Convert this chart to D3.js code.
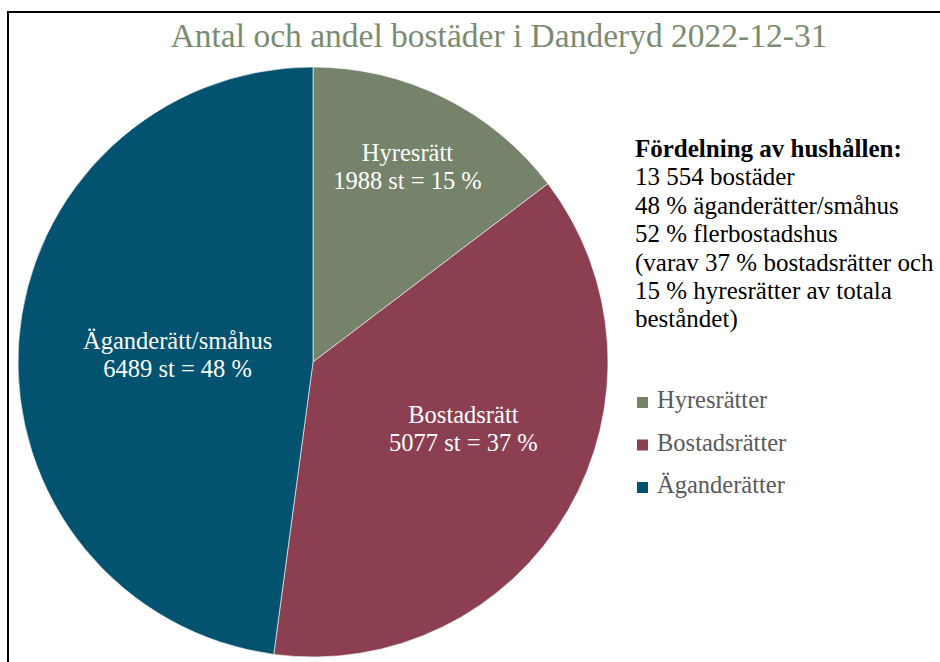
<!DOCTYPE html>
<html>
<head>
<meta charset="utf-8">
<script src="https://cdn.jsdelivr.net/npm/d3@7"></script>
<style>
  body { margin: 0; background: #fff; }
  text { font-family: "Liberation Serif", "Times New Roman", serif; }
</style>
</head>
<body>
<svg id="pie-chart" width="940" height="662"></svg>
<script>
// data
var categories = ["Hyresrätt", "Bostadsrätt", "Äganderätt/småhus"];
var counts = [1988, 5077, 6489];
var shares = [15, 37, 48];
var legendNames = ["Hyresrätter", "Bostadsrätter", "Äganderätter"];
var colors = ["#74836a", "#8b3f51", "#03526f"];
var title = "Antal och andel bostäder i Danderyd 2022-12-31";
var infoTitle = "Fördelning av hushållen:";
var infoLines = ["13 554 bostäder", "48 % äganderätter/småhus", "52 % flerbostadshus",
                 "(varav 37 % bostadsrätter och", "15 % hyresrätter av totala", "beståndet)"];

var svg = d3.select("#pie-chart"),
    width = +svg.attr("width"),
    height = +svg.attr("height"),
    radius = 295,
    cx = 313, cy = 362;

// frame
svg.append("rect")
    .attr("x", 8).attr("y", 12)
    .attr("width", width).attr("height", height)
    .attr("fill", "none")
    .attr("stroke", "#000")
    .attr("stroke-width", 2);

svg.append("text")
    .attr("x", 499).attr("y", 47)
    .attr("text-anchor", "middle")
    .attr("font-size", 33.5)
    .attr("fill", "#7b8b6f")
    .text(title);

var data = categories.map(function(c, i) { return {name: c, value: counts[i], share: shares[i], color: colors[i]}; });

var pie = d3.pie().sort(null).value(function(d) { return d.value; });
var arc = d3.arc().innerRadius(0).outerRadius(radius);

var g = svg.append("g").attr("transform", "translate(" + cx + "," + cy + ")");

g.selectAll("path")
  .data(pie(data))
  .enter().append("path")
    .attr("d", arc)
    .attr("fill", function(d) { return d.data.color; })
    .attr("stroke", "#fff")
    .attr("stroke-width", 0.6);

// label distance from centre (fraction of radius) + vertical nudge, excel "best fit"-ish
var labelR = [0.72, 0.59, 0.46];
var labelDy = [-6, -22, 1];

var label = g.selectAll(".lbl")
  .data(pie(data))
  .enter().append("text")
    .attr("class", "lbl")
    .attr("text-anchor", "middle")
    .attr("font-size", 24.5)
    .attr("fill", "#fff")
    .attr("transform", function(d, i) {
      var r = labelR[i] * radius;
      var c = d3.arc().innerRadius(r).outerRadius(r).centroid(d);
      return "translate(" + c[0] + "," + (c[1] + labelDy[i]) + ")";
    });

label.append("tspan").attr("x", 0).attr("y", -5).text(function(d) { return d.data.name; });
label.append("tspan").attr("x", 0).attr("y", 23)
    .text(function(d) { return d.data.value + " st = " + d.data.share + " %"; });

// info text
var info = svg.append("g").attr("transform", "translate(635,157)");
info.append("text")
    .attr("font-size", 25)
    .attr("font-weight", "bold")
    .attr("fill", "#000")
    .text(infoTitle);
info.selectAll(".line")
  .data(infoLines)
  .enter().append("text")
    .attr("class", "line")
    .attr("y", function(d, i) { return (i + 1) * 28.4; })
    .attr("font-size", 25)
    .attr("fill", "#000")
    .text(function(d) { return d; });

// legend
var legend = svg.append("g").attr("transform", "translate(637,408)")
  .selectAll("g")
  .data(legendNames)
  .enter().append("g")
    .attr("transform", function(d, i) { return "translate(0," + i * 42.5 + ")"; });

legend.append("rect")
    .attr("y", -11)
    .attr("width", 11).attr("height", 11)
    .attr("fill", function(d, i) { return colors[i]; });

legend.append("text")
    .attr("x", 20)
    .attr("font-size", 24.5)
    .attr("fill", "#595959")
    .text(function(d) { return d; });
</script>
</body>
</html>
